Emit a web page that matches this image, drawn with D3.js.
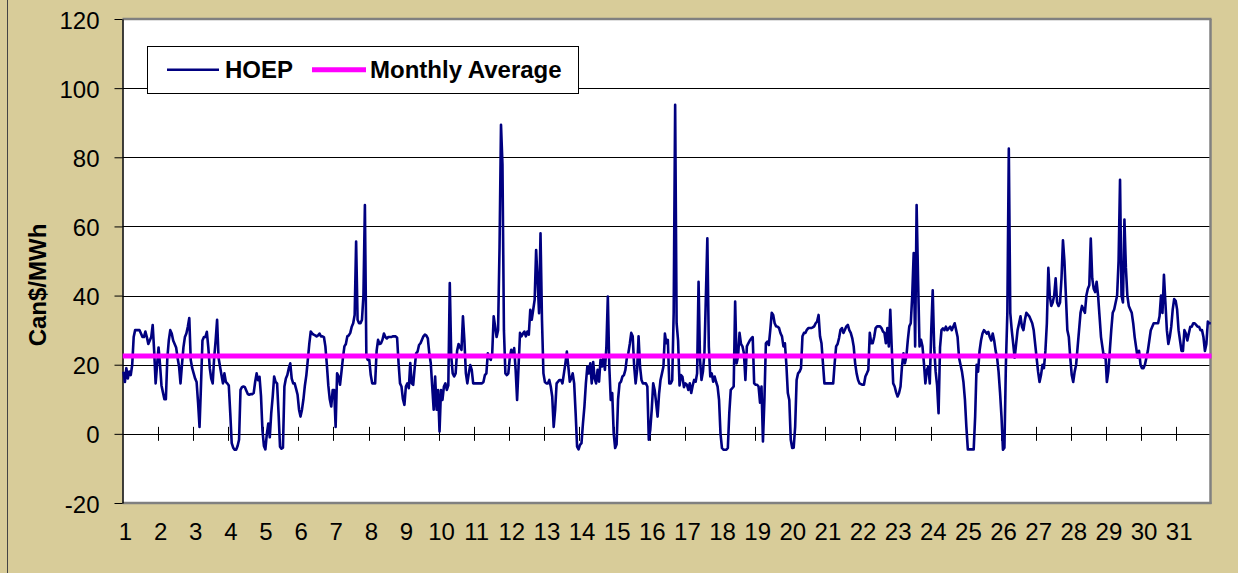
<!DOCTYPE html>
<html><head><meta charset="utf-8">
<script src="https://cdn.jsdelivr.net/npm/d3@7"></script>
<style>
html,body{margin:0;padding:0;background:#D8CC99;}
svg{display:block;}
text{font-family:Arial,"Liberation Sans",sans-serif;fill:#000;}
</style>
</head><body>
<svg id="chart" width="1238" height="573"></svg>
<script>
// ---------- DATA ----------
const dayLabels = d3.range(1, 32).map(String);
const yTicks = [-20, 0, 20, 40, 60, 80, 100, 120];
const seriesNames = ["HOEP", "Monthly Average"];
const monthlyAverage = 22.5;
// hourly HOEP (Can$/MWh), one array of 24 hours per day
const hoepByDay = [
 [18,15,19,16,18,17,20,28,30,30,30,30,29,28,28,29.6,28,26,27,28,31.5,24,14.6,20],
 [25,20,14,12,10,10,22,27,30,29,27,26,25,22,19.5,14.6,20,25,28,29,31,33.5,21.4,19],
 [17.5,16,15,9,2,14,27,28,28,29.5,25,19,16,14.6,22,27,33,22,19.5,17,14.6,17.5,15,14.6],
 [14,6,-2.7,-4,-4.6,-4.6,-3.5,-1.7,12.7,13.5,13.7,13.5,12.5,11.5,11.3,11.5,11.5,11.8,15,17.5,15.5,16.5,11,1],
 [-3.5,-4.5,0,3,-1,6,10.8,16.6,15,14.6,6,-3.7,-4.3,-4,13.7,16,17,19,20.4,16,14.6,14.6,13,11.3],
 [7,5,7,10,14,17,21.4,26,29.6,29,28.7,28.5,28.2,28.5,29,28.2,28.2,28,25.3,20,14,10,7.9,12.7],
 [12.7,2,17.5,16.6,14.2,18,22,25.3,26,28.2,28.5,29.2,31,32,34.4,55.6,33,32,32,33,40,66.2,22.4,21.4],
 [21.4,17,14.6,14.6,14.6,24,27.2,26,26.2,27.2,29,28,27.6,28,28,28,28.2,28.2,28.2,27.8,20.5,14.6,13.7,10],
 [8.4,13.7,14.6,13.2,20.5,14.6,14.2,19,23.3,23.8,25.7,26.2,27.2,28.2,28.7,28.4,27.6,23.3,20.5,13.7,7,16.6,7,12.7],
 [0.7,12.7,9.8,13.7,14.6,12.7,14,43.6,22.4,17.5,16.6,17.5,24,26,25,24.3,34,27,17.5,14.6,17.5,19.9,18.5,14.6],
 [14.6,14.6,14.6,14.6,14.6,14.6,15,17,17.5,23.3,22,21.4,23.3,34,31,28,30,54,89.4,78,30,17.5,17,17.5],
 [22,24.3,22.4,24.8,18.5,9.8,19.5,29.2,28.2,29,29.6,28.2,29.6,28.7,35.9,33,35.9,38.8,53.2,44.5,34.9,58,33,17.5],
 [15,14.6,14.6,15.6,13.7,10.8,2,6.9,14.6,15.1,15.6,15.6,14.6,17.5,20.4,23.8,19.5,15.1,16,17.5,14.6,6,-3.7,-4.5],
 [-3.2,-2.7,3,7.9,14.6,19.5,17.5,20.4,14.6,20.8,16,14.6,18.5,15.1,21.4,19.5,22.4,18.5,25,39.7,19.5,9.8,11.8,0.2],
 [-4.1,-3,10,14.6,15.1,16.6,17,18.5,22,23.3,26,29.2,28.2,19.5,14.6,18.5,28.2,19.5,15.6,14.6,14.6,14.6,13.7,-1.7],
 [1.2,7,14.6,12.7,9,5,11.5,15.6,17.5,19.5,29,26.2,27.2,14.6,14.6,15.5,35,95.2,32,27,14,17,16.5,13.5],
 [14.6,14.2,12.7,14.6,11.8,14,15.6,15.1,17.5,44,21.4,15.6,18,23.3,39.7,56.6,25.3,16.6,17.5,15.1,16.6,15,13.7,9.8],
 [0,-4.1,-4.6,-4.6,-4.6,-4.1,6,12.7,13.2,13.7,38.3,20.4,22.4,29.2,26,25.3,23.3,15.6,25.3,26.2,27,27.6,28,14.6],
 [14.2,14.2,13.7,9,13.7,-2.2,9.8,26.2,26.7,25.7,30,35,34.4,32,31.1,31,30.6,29.1,28.2,25.3,26.2,20,11.8,9.8],
 [-1.7,-4.1,-4,2,15.6,17.5,18,19,28.2,29.2,29.2,30.1,30.6,30.6,30.6,30.8,31.1,32,32.5,34.4,28.2,26.2,20.4,14.6],
 [14.6,14.6,14.6,14.6,14.6,14.6,20.4,25.3,26,27.7,30.1,30.6,29.2,30.1,31.1,31.5,30,29.2,27.7,25.3,20.4,17.5,15.6,14.6],
 [14.4,14.2,14.2,16.6,17.5,18.5,29.2,26.2,26.2,28,30.6,31.1,31.1,31.1,30.6,29.6,29.2,26.2,30.6,25.3,35.9,25,14.6,13.7],
 [12,10.8,11.8,13.7,19.5,23.3,20.4,22.4,27.2,31.1,32,40,52.3,25.3,66.2,44.5,25.3,27.2,25.3,20.4,14.6,18.5,19.5,14.6],
 [30,41.5,25,18,14,6,25,30,30.5,30,31,30,30.5,31,30,31,32,30,28,22,20,18,15,10],
 [2,-4.5,-4.5,-4.5,-4.5,-4.5,5,20,18,24,27,29,30,29.5,29,29.5,28,27,29,27,24,22,18,12],
 [5,-4.6,-4,20,35,82.5,35,30,26,22,26,30,32,34,31,30,33,35,34.5,34,33,32,30,26],
 [22,18,15,17,20,19,24,32,48,40,37,38,40,45,38,37,38,45,56,50,40,30,28,22],
 [17,15,18,20,25,30,35,37,36,35,40,42,43,56.5,45,42,41,44,40,34,28,25,22,23],
 [15,18,24,30,35,36,38,40,50,73.5,40,38,62,48,40,37,36,35,32,28,25,22,24,20],
 [19,19,20,22,24,27,30,31,32,32,32,32,34,40,35,46,38,30,26,28,31,36,39,38.5],
 [36,30,27,24,24,30,29,27,29,31,31,32,32,31.5,31,31,30,30,28,24,26,32.5,32,32]
];

// ---------- CHART ----------
const hoep = hoepByDay.flat();
const nHours = hoep.length;
const svg = d3.select("#chart");
const W = 1238, H = 573;
const P = {left: 122.5, right: 1210.5, top: 19, bottom: 503};

svg.append("rect").attr("width", W).attr("height", H).attr("fill", "#D8CC99");
svg.append("line").attr("x1", 7.5).attr("x2", 7.5).attr("y1", 0).attr("y2", H)
  .attr("stroke", "#444").attr("stroke-width", 1);

const x = d3.scaleLinear().domain([0, nHours]).range([122.7, 1211.5]);
const y = d3.scaleLinear().domain([-20, 120]).range([P.bottom, P.top]);

// plot area
svg.append("rect").attr("x", P.left).attr("y", P.top)
  .attr("width", P.right - P.left).attr("height", P.bottom - P.top).attr("fill", "#fff");

// gridlines
svg.append("g").selectAll("line").data(yTicks.filter(v => v > -20 && v < 120)).join("line")
  .attr("x1", P.left).attr("x2", P.right)
  .attr("y1", d => Math.round(y(d)) + 0.5).attr("y2", d => Math.round(y(d)) + 0.5)
  .attr("stroke", "#000").attr("stroke-width", 1);

// plot border (grey)
const border = svg.append("g").attr("fill", "none").attr("stroke", "#808080").attr("stroke-width", 2.5);
border.append("line").attr("x1", P.left).attr("x2", P.right + 1).attr("y1", P.top).attr("y2", P.top);
border.append("line").attr("x1", P.right).attr("x2", P.right).attr("y1", P.top).attr("y2", P.bottom + 1);
border.append("line").attr("x1", P.left).attr("x2", P.right + 1).attr("y1", P.bottom).attr("y2", P.bottom);

// x cross ticks on zero line
const dayStarts = d3.range(1, 31).map(k => k * 24);
svg.append("g").selectAll("line").data(dayStarts).join("line")
  .attr("x1", d => Math.round(x(d)) + 0.5).attr("x2", d => Math.round(x(d)) + 0.5)
  .attr("y1", y(0) - 7).attr("y2", y(0) + 7)
  .attr("stroke", "#000").attr("stroke-width", 1);

// y axis
const yAxis = d3.axisLeft(y).tickValues(yTicks).tickSize(8).tickSizeOuter(0).tickPadding(15)
  .tickFormat(d => String(d));
const gy = svg.append("g").attr("transform", `translate(${P.left},0)`).call(yAxis);
gy.select(".domain").attr("stroke", "#000").attr("stroke-width", 1.5);
gy.selectAll(".tick line").attr("stroke", "#000");
gy.selectAll(".tick text").attr("font-size", 24).attr("dy", "0.38em")
  .attr("font-family", "Arial, 'Liberation Sans', sans-serif").attr("fill", "#000");

// x axis labels
const xAxis = d3.axisBottom(x).tickValues(d3.range(0, 31).map(k => k * 24 + 1))
  .tickSize(0).tickPadding(0).tickFormat((d, i) => dayLabels[i]);
const gx = svg.append("g").attr("transform", `translate(0.8,${P.bottom})`).call(xAxis);
gx.select(".domain").remove();
gx.selectAll(".tick text").attr("font-size", 24).attr("y", 37).attr("dy", 0)
  .attr("font-family", "Arial, 'Liberation Sans', sans-serif").attr("fill", "#000");

// HOEP line
const line = d3.line().x((d, i) => x(i + 0.5)).y(d => y(d));
svg.append("path").datum(hoep).attr("d", line)
  .attr("fill", "none").attr("stroke", "#000080").attr("stroke-width", 2.6)
  .attr("stroke-linejoin", "round");

// Monthly average line
svg.append("line").attr("x1", x(0)).attr("x2", x(nHours))
  .attr("y1", y(monthlyAverage)).attr("y2", y(monthlyAverage))
  .attr("stroke", "#FF00FF").attr("stroke-width", 5);

// axis title
svg.append("text").attr("transform", "translate(46,285) rotate(-90)")
  .attr("text-anchor", "middle").attr("font-size", 24).attr("font-weight", "bold")
  .text("Can$/MWh");

// legend
const lg = svg.append("g");
lg.append("rect").attr("x", 147.5).attr("y", 46.5).attr("width", 431).attr("height", 47)
  .attr("fill", "#fff").attr("stroke", "#000").attr("stroke-width", 1);
lg.append("line").attr("x1", 167).attr("x2", 219).attr("y1", 69.7).attr("y2", 69.7)
  .attr("stroke", "#000080").attr("stroke-width", 2.6);
lg.append("text").attr("x", 225).attr("y", 78.3).attr("font-size", 24).attr("font-weight", "bold")
  .text(seriesNames[0]);
lg.append("line").attr("x1", 312).attr("x2", 366).attr("y1", 69.7).attr("y2", 69.7)
  .attr("stroke", "#FF00FF").attr("stroke-width", 5);
lg.append("text").attr("x", 370).attr("y", 78.3).attr("font-size", 24).attr("font-weight", "bold")
  .text(seriesNames[1]);
</script>
</body></html>
